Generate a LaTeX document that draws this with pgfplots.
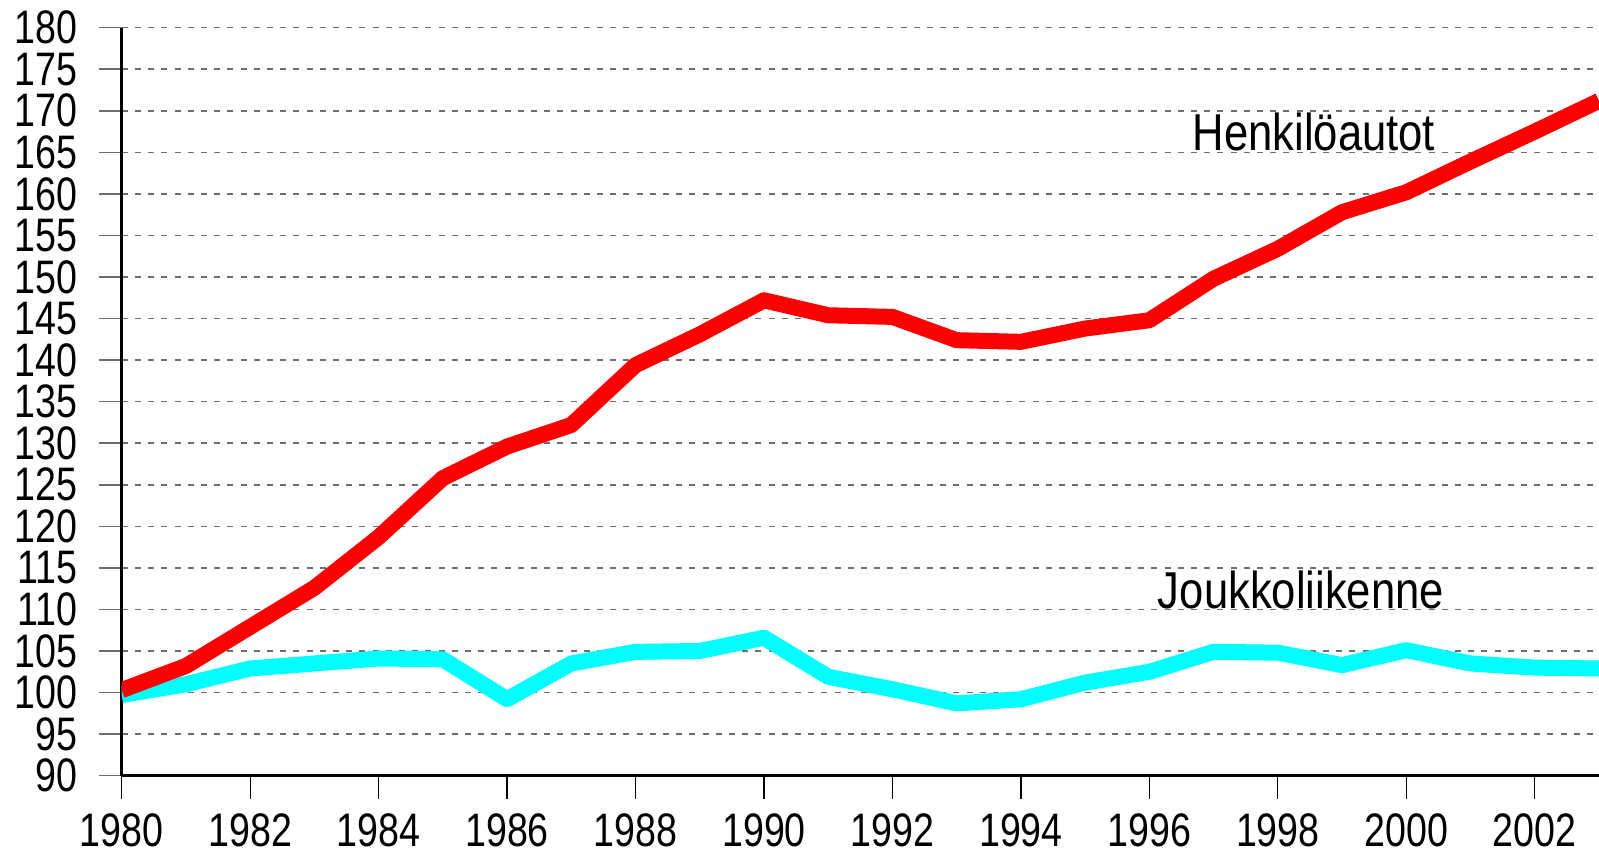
\documentclass[border=0pt]{standalone}
\usepackage{pgfplots}
\pgfplotsset{compat=1.18}
\usepackage{fontspec}
\setmainfont{Liberation Sans}
\definecolor{autot}{RGB}{255,0,0}
\definecolor{joukko}{RGB}{0,255,255}
\definecolor{gridgray}{RGB}{110,110,110}

\pgfplotstableread{
year henk jouk
1980 100.3 99.7
1981 103.2 101.0
1982 107.9 102.9
1983 112.6 103.5
1984 118.7 104.1
1985 125.8 104.0
1986 129.6 99.2
1987 132.2 103.5
1988 139.4 104.9
1989 143.1 105.0
1990 147.2 106.6
1991 145.4 101.9
1992 145.2 100.4
1993 142.4 98.7
1994 142.2 99.2
1995 143.8 101.2
1996 144.8 102.5
1997 149.8 104.9
1998 153.4 104.8
1999 157.8 103.3
2000 160.2 105.1
2001 163.9 103.5
2002 167.5 103.0
2003 171.2 102.9
}\liikenne

\begin{document}
\begin{tikzpicture}
\begin{axis}[scale only axis, width=738.65pt, height=374pt,
    xmin=1980, xmax=2003, ymin=90, ymax=180,
    xtick={1980,1982,...,2002}, ytick={90,95,...,180},
    axis x line*=bottom, axis y line*=left,
    axis line style={line width=1.4pt, -},
    tick align=outside,
    major tick length=11.5pt,
    xtick style={black, line width=0.6pt},
    ytick style={gridgray, line width=0.8pt},
    ymajorgrids, grid style={gridgray, line width=0.8pt, dash pattern=on 3pt off 3.6pt},
    xticklabel={\scalebox{1}[1.25]{\pgfmathprintnumber[assume math mode=true, 1000 sep={}, fixed, precision=0]{\tick}}},
    yticklabel={\scalebox{1}[1.25]{\pgfmathprintnumber[assume math mode=true]{\tick}}},
    ticklabel style={font=\fontsize{18.8}{20}\selectfont},
    xticklabel style={yshift=-4pt},
    yticklabel style={xshift=-7pt, inner ysep=0pt},
    ]
  \addplot[joukko, line width=8pt, line join=round] table[x=year, y=jouk] {\liikenne};
  \addplot[autot, line width=8pt, line join=round] table[x=year, y=henk] {\liikenne};
  \node[font=\fontsize{21.8}{24}\selectfont, inner sep=0pt] at (axis cs:1998.56,167.45) {\scalebox{1}[1.19]{Henkilöautot}};
  \node[font=\fontsize{21.8}{24}\selectfont, inner sep=0pt] at (axis cs:1998.36,112.3) {\scalebox{1}[1.19]{Joukkoliikenne}};
  \coordinate (sw) at (rel axis cs:0,0);
  \coordinate (ne) at (rel axis cs:1,1);
\end{axis}
\pgfresetboundingbox
\path[use as bounding box] ([xshift=-60.85pt,yshift=-39.15pt]sw) rectangle ([yshift=13.85pt]ne);
\end{tikzpicture}
\end{document}
